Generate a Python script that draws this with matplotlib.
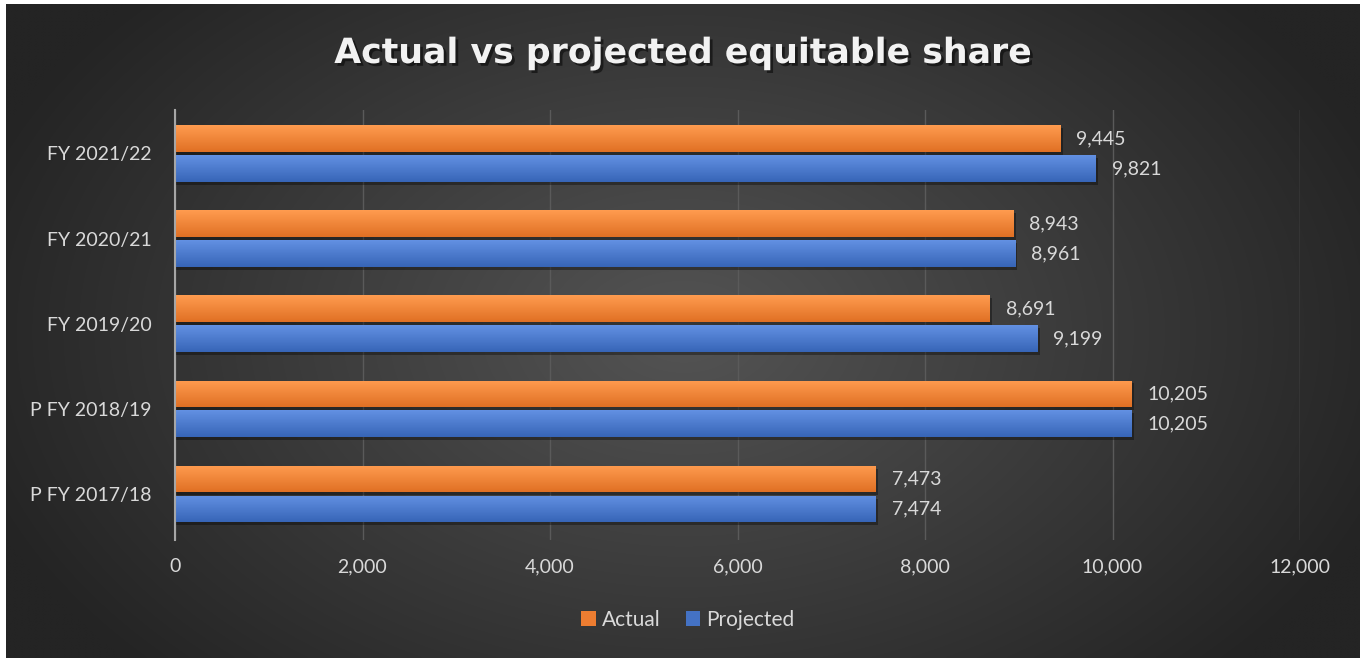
import numpy as np
import matplotlib
matplotlib.use("Agg")
import matplotlib.pyplot as plt
from matplotlib import patheffects as pe
from matplotlib.ticker import FuncFormatter, MultipleLocator
from matplotlib.patches import Patch

categories = ["P FY 2017/18", "P FY 2018/19", "FY 2019/20", "FY 2020/21", "FY 2021/22"]
actual = [7473, 10205, 8691, 8943, 9445]
projected = [7474, 10205, 9199, 8961, 9821]
series_names = ["Actual", "Projected"]
colors = ["#ED7D31", "#4472C4"]
title = "Actual vs projected equitable share"

plt.rcParams['font.family'] = ['Lato', 'DejaVu Sans']
txt = "#D9D9D9"

fig = plt.figure(figsize=(13.66, 6.58), dpi=100)
fig.patch.set_facecolor("white")

# background radial gradient
bg = fig.add_axes([6/1366, 0, 1 - 12/1366, 1 - 4/658])
bg.set_axis_off()
H, W = 330, 680
yy, xx = np.mgrid[0:H, 0:W]
cx, cy = W * 0.5, H * 0.5
r = np.sqrt(((xx - cx) / (W * 0.55)) ** 2 + ((yy - cy) / (H * 0.75)) ** 2)
r = np.clip(r, 0, 1)
inner = np.array([0x54, 0x54, 0x54]) / 255
outer = np.array([0x24, 0x24, 0x24]) / 255
img = inner[None, None, :] * (1 - r[..., None]) + outer[None, None, :] * r[..., None]
bg.imshow(img, aspect='auto', extent=[0, 1, 0, 1], interpolation='bilinear')
bg.set_xlim(0, 1); bg.set_ylim(0, 1)

ax = fig.add_axes([175/1366, 1 - 540/658, 1125/1366, 430/658])
ax.patch.set_alpha(0)
y = np.arange(len(categories))
h = 0.314
off = 0.176

def grad_bar(ax, ys, vals, color):
    bars = ax.barh(ys, vals, height=h, color=color, zorder=3)
    base = np.array(matplotlib.colors.to_rgb(color))
    light = np.clip(base + 0.12, 0, 1)
    dark = np.clip(base - 0.05, 0, 1)
    g = np.linspace(0, 1, 50)[:, None, None]
    grad = light[None, None, :] * (1 - g) + dark[None, None, :] * g
    for b in bars:
        x0, y0 = b.get_x(), b.get_y()
        w, hh = b.get_width(), b.get_height()
        sh = plt.Rectangle((x0, y0 - 0.035), w + 25, hh, color="black", alpha=0.35, zorder=2, lw=0)
        ax.add_patch(sh)
        im = ax.imshow(grad, extent=[x0, x0 + w, y0, y0 + hh], aspect='auto', zorder=3.5,
                       interpolation='bilinear', origin='upper')
        im.set_clip_path(b)
    return bars

ba = grad_bar(ax, y + off, actual, colors[0])
bp = grad_bar(ax, y - off, projected, colors[1])

for ys, vals in ((y + off, actual), (y - off, projected)):
    for yi, v in zip(ys, vals):
        ax.annotate(f"{v:,}", (v, yi), xytext=(16, 0), textcoords="offset pixels",
                    va="center", ha="left", color=txt, fontsize=14, zorder=5)

ax.set_xlim(0, 12000)
ax.set_ylim(-0.54, 4.51)
ax.xaxis.set_major_locator(MultipleLocator(2000))
ax.xaxis.set_major_formatter(FuncFormatter(lambda v, p: f"{int(v):,}"))
ax.set_yticks(y)
ax.set_yticklabels(categories)
ax.tick_params(axis='both', length=0, colors=txt, labelsize=14)
ax.tick_params(axis='x', pad=13)
ax.tick_params(axis='y', pad=17)
ax.grid(axis='x', color="#5A5A5A", lw=1, zorder=0)
ax.set_axisbelow(True)
for s in ("top", "right", "bottom"):
    ax.spines[s].set_visible(False)
ax.spines["left"].set_color("#A6A6A6")
ax.spines["left"].set_linewidth(1.5)
ax.spines["left"].set_zorder(4)

fig.text(683/1366, 1 - 53/658, title, ha="center", va="center", color="#F2F2F2",
         fontsize=25, fontweight="bold", family=["DejaVu Sans"],
         path_effects=[pe.withSimplePatchShadow(offset=(2, -2), shadow_rgbFace="black", alpha=0.5)])

handles = [Patch(facecolor=c, label=n) for c, n in zip(colors, series_names)]
leg = fig.legend(handles=handles, loc="center", bbox_to_anchor=(688/1366, 1 - 620/658), ncol=2,
                 frameon=False, fontsize=15, handlelength=0.7, handleheight=0.7,
                 handletextpad=0.3, columnspacing=1.2)
for t in leg.get_texts():
    t.set_color(txt)

fig.savefig("out.png", dpi=100, facecolor=fig.get_facecolor())
